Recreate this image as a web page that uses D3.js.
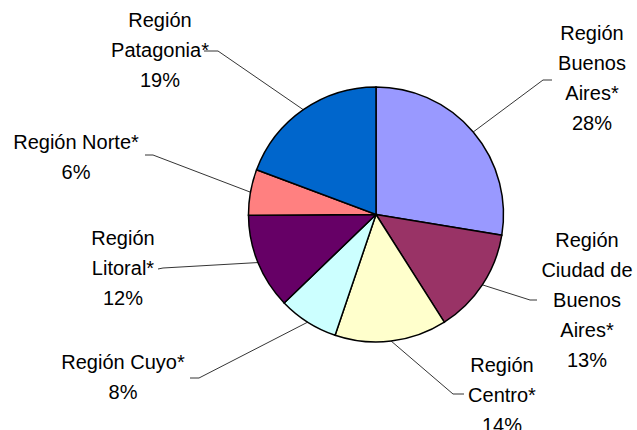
<!DOCTYPE html>
<html>
<head>
<meta charset="utf-8">
<style>
body { margin: 0; background: #fff; }
.slice { stroke: #000; stroke-width: 1.5px; }
.leader { fill: none; stroke: #000; stroke-width: 0.8px; }
.lbl { font: 20px "Liberation Sans", Arial, sans-serif; fill: #000; }
</style>
<script src="https://cdn.jsdelivr.net/npm/d3@7/dist/d3.min.js"></script>
</head>
<body>
<svg width="637" height="430"></svg>
<script>
var categories = ["Región Buenos Aires*", "Región Ciudad de Buenos Aires*", "Región Centro*",
                  "Región Cuyo*", "Región Litoral*", "Región Norte*", "Región Patagonia*"];
var values = [27.6, 13.4, 14.2, 7.6, 12.1, 5.8, 19.3];
var colors = ["#9999ff", "#993366", "#ffffcc", "#ccffff", "#660066", "#ff8080", "#0066cc"];

// label layout: centre x, first line y, wrap width, leader elbow and end
var layout = [
  {x: 592, y: 33,  w: 90,  elbow: [543, 80],  end: [552, 80]},
  {x: 587, y: 240, w: 96,  elbow: [530, 300], end: [537, 300]},
  {x: 502, y: 365, w: 100, elbow: [453, 394], end: [464, 394]},
  {x: 123, y: 362, w: 150, elbow: [199, 378], end: [190, 378]},
  {x: 123, y: 238, w: 100, elbow: [163, 268], end: [158, 269]},
  {x: 76,  y: 142, w: 150, elbow: [153, 155], end: [145, 155]},
  {x: 160, y: 20,  w: 100, elbow: [218, 51],  end: [204, 51]}
];
var lineH = 30;

var svg = d3.select("svg"),
    cx = 376, cy = 214.5, r = 127.5;

var total = d3.sum(values);
var pie = d3.pie().sort(null).value(function(d) { return d; });
var arc = d3.arc().innerRadius(0).outerRadius(r);
var arcs = pie(values);

var g = svg.append("g").attr("transform", "translate(" + cx + "," + cy + ")");

g.selectAll(".slice")
    .data(arcs)
  .enter().append("path")
    .attr("class", "slice")
    .attr("d", arc)
    .style("fill", function(d, i) { return colors[i]; });

// leader lines from the mid point of each slice's rim
svg.selectAll(".leader")
    .data(arcs)
  .enter().append("polyline")
    .attr("class", "leader")
    .attr("points", function(d, i) {
      var a = (d.startAngle + d.endAngle) / 2,
          sx = cx + r * Math.sin(a),
          sy = cy - r * Math.cos(a),
          L = layout[i];
      return [[sx, sy], L.elbow, L.end].map(function(p) { return p.join(","); }).join(" ");
    });

// labels, wrapped greedily by width
var measure = svg.append("text").attr("class", "lbl");
function wrap(text, w) {
  var words = text.split(" "), lines = [], cur = "";
  words.forEach(function(wd) {
    var t = cur ? cur + " " + wd : wd;
    measure.text(t);
    if (cur && measure.node().getComputedTextLength() > w) { lines.push(cur); cur = wd; }
    else cur = t;
  });
  lines.push(cur);
  return lines;
}

categories.forEach(function(c, i) {
  var L = layout[i];
  var lines = wrap(c, L.w);
  lines.push(Math.round(values[i] / total * 100) + "%");
  var t = svg.append("text").attr("class", "lbl").attr("text-anchor", "middle");
  lines.forEach(function(s, k) {
    t.append("tspan").attr("x", L.x).attr("y", L.y + k * lineH).attr("dy", "0.35em").text(s);
  });
});
measure.remove();
</script>
</body>
</html>
